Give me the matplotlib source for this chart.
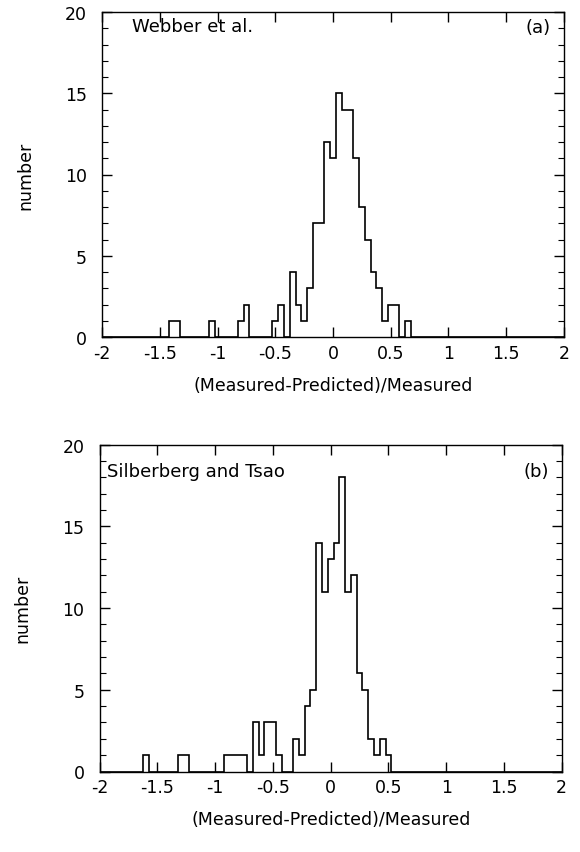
import numpy as np
import matplotlib
matplotlib.use('Agg')
import matplotlib.pyplot as plt
from matplotlib.ticker import MultipleLocator

# ---- data (bin centres in units of (Measured-Predicted)/Measured, counts) ----
bin_width = 0.05
a_centers = [-1.40, -1.35, -1.05, -0.80, -0.75, -0.50, -0.45, -0.35, -0.30, -0.25,
             -0.20, -0.15, -0.10, -0.05, 0.00, 0.05, 0.10, 0.15, 0.20, 0.25,
             0.30, 0.35, 0.40, 0.45, 0.50, 0.55, 0.65]
a_counts = [1, 1, 1, 1, 2, 1, 2, 4, 2, 1,
            3, 7, 7, 12, 11, 15, 14, 14, 11, 8,
            6, 4, 3, 1, 2, 2, 1]

b_centers = [-1.60, -1.30, -1.25, -0.90, -0.85, -0.80, -0.75, -0.65, -0.60, -0.55,
             -0.50, -0.45, -0.30, -0.25, -0.20, -0.15, -0.10, -0.05, 0.00, 0.05,
             0.10, 0.15, 0.20, 0.25, 0.30, 0.35, 0.40, 0.45, 0.50]
b_counts = [1, 1, 1, 1, 1, 1, 1, 3, 1, 3,
            3, 1, 2, 1, 4, 5, 14, 11, 13, 14,
            18, 11, 12, 6, 5, 2, 1, 2, 1]

x_ticks = [-2, -1.5, -1, -0.5, 0, 0.5, 1, 1.5, 2]
x_tick_labels = ['-2', '-1.5', '-1', '-0.5', '0', '0.5', '1', '1.5', '2']
y_ticks = [0, 5, 10, 15, 20]
y_tick_labels = ['0', '5', '10', '15', '20']

panel_names = ['Webber et al.', 'Silberberg and Tsao']
panel_tags = ['(a)', '(b)']
x_label = '(Measured-Predicted)/Measured'
y_label = 'number'

plt.rcParams['font.family'] = ['DejaVu Sans']

W, H = 580, 853
fig = plt.figure(figsize=(W / 100, H / 100), dpi=100)

def to_full(centers, counts):
    edges = np.arange(-2.0 - bin_width / 2, 2.0 + bin_width, bin_width)
    full = np.zeros(len(edges) - 1)
    for c, n in zip(centers, counts):
        idx = int(round((c - edges[0]) / bin_width - 0.5))
        full[idx] = n
    return edges, full

def make_panel(rect, centers, counts, name, tag, name_xy, tag_xy):
    ax = fig.add_axes(rect)
    edges, full = to_full(centers, counts)
    ax.stairs(full, edges, baseline=0, color='black', linewidth=1.2)
    ax.set_xlim(-2, 2)
    ax.set_ylim(0, 20)
    ax.set_xticks(x_ticks)
    ax.set_xticklabels(x_tick_labels)
    ax.set_yticks(y_ticks)
    ax.set_yticklabels(y_tick_labels)
    ax.yaxis.set_minor_locator(MultipleLocator(1))
    ax.tick_params(axis='both', which='major', direction='in', length=7, width=1,
                   top=True, right=True, labelsize=12.5)
    ax.tick_params(axis='x', which='major', pad=5)
    ax.tick_params(axis='y', which='major', pad=11)
    ax.tick_params(axis='y', which='minor', direction='in', length=4, width=0.8,
                   left=True, right=True)
    for s in ax.spines.values():
        s.set_linewidth(1.0)
    ax.set_xlabel(x_label, fontsize=12.5, labelpad=10)
    ax.set_ylabel(y_label, fontsize=12.5, labelpad=22)
    ax.text(name_xy[0], name_xy[1], name, transform=ax.transAxes, fontsize=13,
            ha='left', va='center')
    ax.text(tag_xy[0], tag_xy[1], tag, transform=ax.transAxes, fontsize=13,
            ha='right', va='center')
    return ax

make_panel([102.3 / W, 1 - 338 / H, 461.5 / W, 325 / H], a_centers, a_counts,
           panel_names[0], panel_tags[0], (0.065, 0.958), (0.972, 0.955))
make_panel([99.7 / W, 1 - 772.5 / H, 462 / W, 326.8 / H], b_centers, b_counts,
           panel_names[1], panel_tags[1], (0.015, 0.918), (0.972, 0.918))

fig.savefig('out.png', dpi=100, facecolor='white')
